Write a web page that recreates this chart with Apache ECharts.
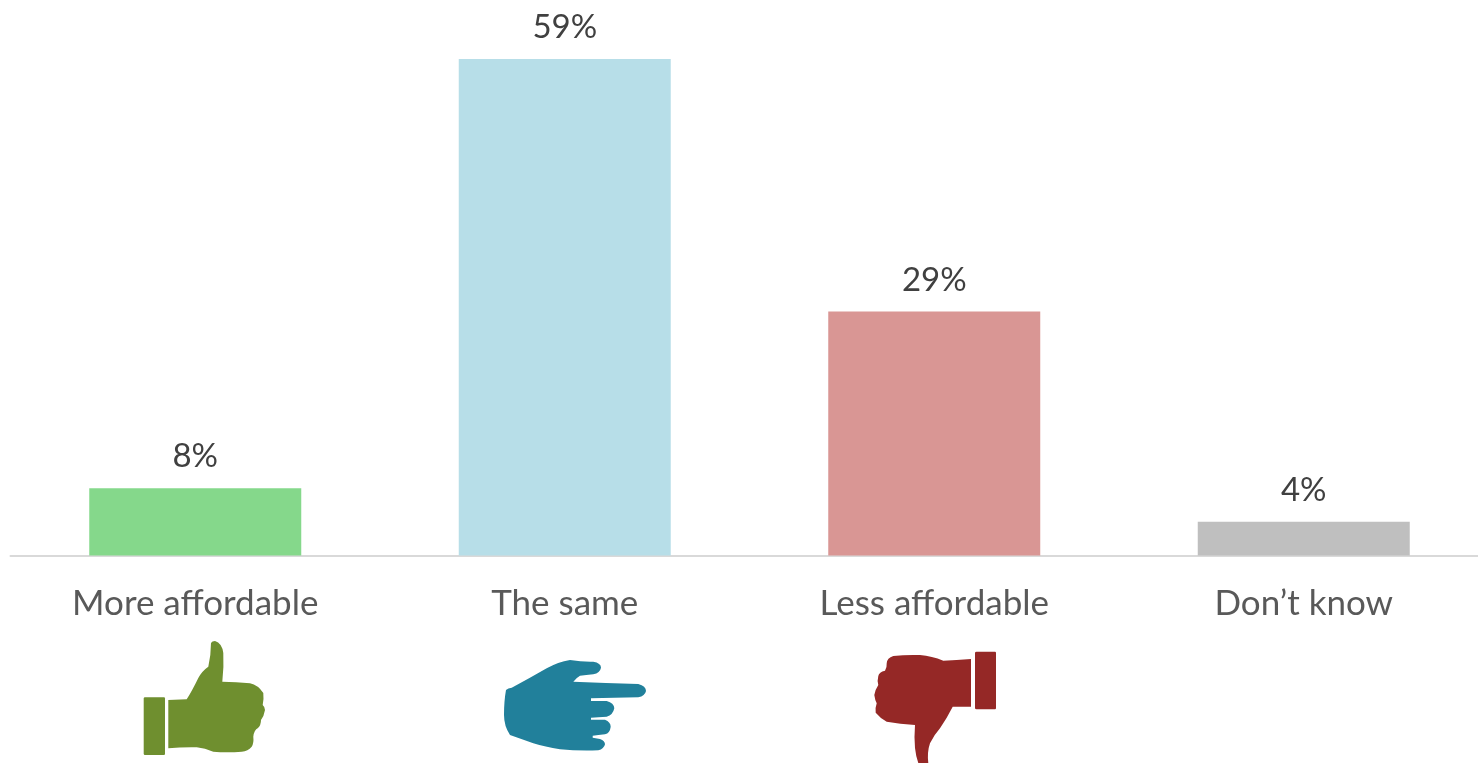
<!DOCTYPE html>
<html>
<head>
<meta charset="utf-8">
<style>html,body{margin:0;padding:0;background:#fff;overflow:hidden}#chart{width:1478px;height:763px}</style>
<script src="https://cdn.jsdelivr.net/npm/echarts@6/dist/echarts.min.js"></script>
</head>
<body>
<div id="chart"></div>
<script>
const categories = ['More affordable', 'The same', 'Less affordable', 'Don\u2019t know'];
const shares = [8, 59, 29, 4];
const barColors = ['#85D88B', '#B7DEE8', '#D99694', '#BFBFBF'];

// Hand icons sitting under the category names
const thumbUp = 'M168.3 700 L186.7 699.3 Q192 691 198.3 678 Q202 671 208.3 666.7 Q211 655 211 643 Q212 641 215 641 Q222 643 223.3 653 Q224 667 222.3 681.7 Q236 682 250 683.3 Q258 685 263.3 693 Q264 699 262.7 705 Q265 707 265 710 Q264 716 261 720 Q261 725 258 728 Q254 730 253.3 736.7 Q254 743 251.7 746.7 Q248 751 241.7 751.7 Q227 753 213.3 751.7 Q205 748 196.7 747.3 Q182 747 168.3 748.3 Z';
const thumbUpCuff = 'M145 697.3 H164 Q165 697.3 165 698.5 V753.5 Q165 755 164 755 H145 Q143.7 755 143.7 753.5 V698.5 Q143.7 697.3 145 697.3 Z';
const pointing = 'M506 690 Q508 688 511.7 687.7 Q530 678 546.7 668.3 Q558 662 570 660 Q582 662 593.3 661.7 Q601 663 601 667.7 Q600 673 593.3 674.3 Q586 675 580 675.7 Q576 678 573.3 681.7 Q606 683 638.3 684 Q646 686 646 691 Q645 696 638.3 697.3 Q614 698 591 698.3 V701 H606.7 Q614 703 614.3 708.3 Q613 715 606.7 716.7 Q598 717 591 717.7 V719.7 H605 Q610.7 722 610.7 726.7 Q610 733 605 734.3 Q598 735 592.7 735.7 V737.7 L600 739 Q605 741 605 744.3 Q604 749 598.3 750.3 Q578 751 560 749.3 Q545 747 533.3 743.3 L510 735 Q504 726 504 715 Q504 701 506 690 Z';
const thumbDown = 'M971 659 Q956 660 943.3 660.7 Q932 656 920 655 Q906 654.5 893.3 656 Q887 658 886.7 663.3 Q887 668 885 670.7 Q879 672 878.3 676 Q877 681 878.3 685 Q875 690 874.3 695 Q875 700 876.7 703.3 Q875 708 875.7 712.7 Q880 718 886.7 721.7 Q900 724 915 725 Q914 737 915 748 Q916 757 918.3 763 H928.3 Q927 752 930 743.3 Q934 735 940 728.3 Q947 718 952.7 706.7 H971 Z';
const thumbDownCuff = 'M976.5 651.7 H995 Q996 651.7 996 653 V708 Q996 709.3 995 709.3 H976.5 Q975 709.3 975 708 V653 Q975 651.7 976.5 651.7 Z';

// Register each outline as a named shape so the graphic component can place it
const iconShapes = { thumbUp, thumbUpCuff, pointing, thumbDown, thumbDownCuff };
Object.keys(iconShapes).forEach(name => {
  echarts.graphic.registerShape(name, echarts.graphic.extendPath(iconShapes[name], {}));
});

const chart = echarts.init(document.getElementById('chart'), null, { renderer: 'canvas' });
chart.setOption({
  animation: false,
  backgroundColor: '#fff',
  grid: { left: 10.5, top: 50.5, width: 1478, height: 505, containLabel: false, outerBoundsMode: 'none' },
  xAxis: {
    type: 'category',
    data: categories,
    axisTick: { show: false },
    axisLine: { lineStyle: { color: '#D9D9D9', width: 2 } },
    axisLabel: { color: '#595959', fontFamily: 'Lato', fontSize: 35, margin: 31, interval: 0, hideOverlap: false }
  },
  yAxis: { type: 'value', min: 0, max: 60, show: false },
  series: [{
    type: 'bar',
    barWidth: 212,
    data: shares.map((v, i) => ({ value: v, itemStyle: { color: barColors[i] } })),
    label: { show: true, position: 'top', distance: 15, formatter: '{c}%', color: '#404040', fontFamily: 'Lato', fontSize: 33 }
  }],
  graphic: [
    { type: 'thumbUp', style: { fill: '#6F8F2F' } },
    { type: 'thumbUpCuff', style: { fill: '#6F8F2F' } },
    { type: 'pointing', style: { fill: '#21809B' } },
    { type: 'thumbDown', style: { fill: '#952826' } },
    { type: 'thumbDownCuff', style: { fill: '#952826' } }
  ]
});
</script>
</body>
</html>
